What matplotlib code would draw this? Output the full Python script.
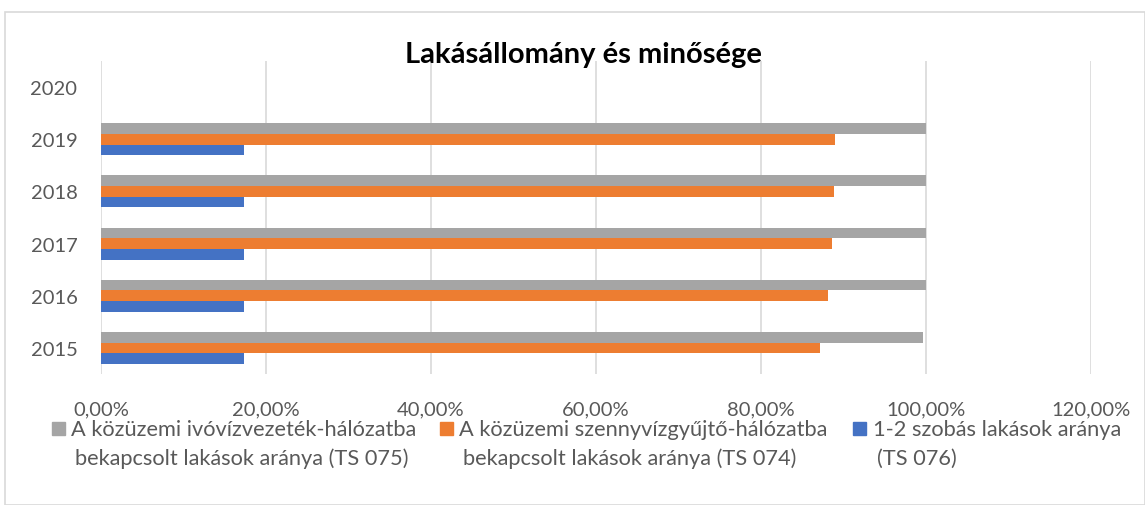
import matplotlib
matplotlib.use("Agg")
import matplotlib.pyplot as plt
import numpy as np
from matplotlib.patches import Rectangle
from matplotlib.ticker import FuncFormatter

plt.rcParams['font.family'] = ['Lato', 'DejaVu Sans']

W, H = 1145, 506

years = ['2015', '2016', '2017', '2018', '2019', '2020']
ivoviz = [99.6, 100.0, 100.0, 100.0, 100.0, 0]
szennyviz = [87.2, 88.1, 88.6, 88.8, 89.0, 0]
szobas = [17.3, 17.3, 17.3, 17.3, 17.3, 0]

labels = [
    'A közüzemi ivóvízvezeték-hálózatba\nbekapcsolt lakások aránya (TS 075)',
    'A közüzemi szennyvízgyűjtő-hálózatba\nbekapcsolt lakások aránya (TS 074)',
    '1-2 szobás lakások aránya\n(TS 076)',
]
colors = ['#a5a5a5', '#ed7d31', '#4472c4']
text_col = '#595959'

fig = plt.figure(figsize=(W / 100, H / 100), dpi=100)
ax = fig.add_axes([101 / W, 1 - 375 / H, (1091 - 101) / W, (375 - 62) / H])

y = np.arange(len(years))
h = 0.205
ax.barh(y + h, ivoviz, h, color=colors[0], zorder=3)
ax.barh(y, szennyviz, h, color=colors[1], zorder=3)
ax.barh(y - h, szobas, h, color=colors[2], zorder=3)

ax.set_xlim(0, 120)
ax.set_ylim(-0.5, len(years) - 0.5)
ax.set_xticks(np.arange(0, 121, 20))
ax.xaxis.set_major_formatter(FuncFormatter(lambda v, p: f'{v:.2f}%'.replace('.', ',')))
ax.set_yticks(y)
ax.set_yticklabels(years)
ax.tick_params(length=0, labelsize=14.5, labelcolor=text_col)
ax.tick_params(axis='x', pad=19)
ax.tick_params(axis='y', pad=17)
ax.grid(axis='x', color='#d9d9d9', linewidth=1.2, zorder=0)
for s in ax.spines.values():
    s.set_visible(False)

fig.text(583 / W, 1 - 55 / H, 'Lakásállomány és minősége', ha='center', va='center',
         fontsize=21, fontweight='bold', color='black')

# legend, drawn by hand so the marker sits next to the first line
marker_x = [52, 440, 853]
text_x = [71, 459, 873]
for mx, tx, c, lab in zip(marker_x, text_x, colors, labels):
    fig.patches.append(Rectangle((mx / W, 1 - 436 / H), 13 / W, 13 / H,
                                 transform=fig.transFigure, color=c))
    for i, line in enumerate(lab.split('\n')):
        fig.text((tx + 4 * i) / W, 1 - (430 + 29 * i) / H, line, ha='left', va='center',
                 fontsize=15.7, color=text_col)

fig.patches.append(Rectangle((5 / W, 0), 1 - 5 / W, 1 - 13 / H, transform=fig.transFigure,
                             fill=False, edgecolor='#d9d9d9', linewidth=1.2))

fig.savefig('out.png', dpi=100)
